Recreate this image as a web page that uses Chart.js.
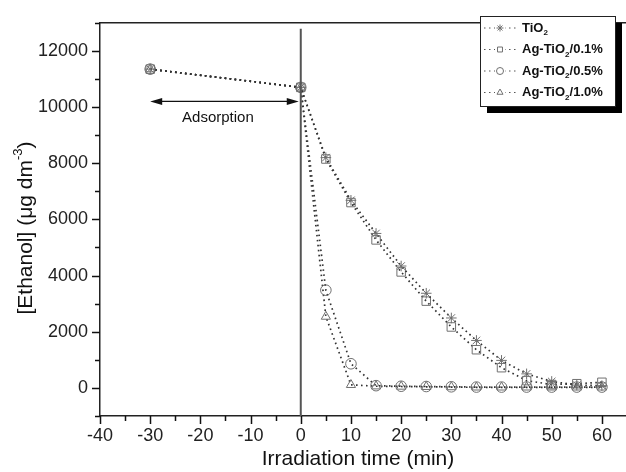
<!DOCTYPE html>
<html>
<head>
<meta charset="utf-8">
<script src="https://cdn.jsdelivr.net/npm/chart.js@4.4.0/dist/chart.umd.min.js"></script>
<style>
  html, body { margin: 0; padding: 0; background: #fff; overflow: hidden; }
  #wrap { width: 634px; height: 472px; }
</style>
</head>
<body>
<div id="wrap"><canvas id="chart" width="634" height="472"></canvas></div>
<script>
// irradiation time (min)
const times = [-30, 0, 5, 10, 15, 20, 25, 30, 35, 40, 45, 50, 55, 60];

// [Ethanol] in ug dm-3
const tio2   = [11350, 10700, 8200, 6680, 5500, 4340, 3370, 2490, 1690, 980, 500, 230, 100, 80];
const ag01   = [11350, 10700, 8150, 6600, 5270, 4130, 3090, 2170, 1360, 720, 260, 120, 150, 200];
const ag05   = [11350, 10700, 3480, 860, 80, 60, 50, 40, 30, 30, 30, 30, 30, 30];
const ag10   = [11350, 10700, 2540, 110, 60, 50, 40, 30, 20, 20, 20, 20, 20, 20];

const seriesNames = ['TiO2', 'Ag-TiO2/0.1%', 'Ag-TiO2/0.5%', 'Ag-TiO2/1.0%'];
const pointStyles = ['star', 'rect', 'circle', 'triangle'];

const xTicks = [-40, -30, -20, -10, 0, 10, 20, 30, 40, 50, 60];
const yTicks = [0, 2000, 4000, 6000, 8000, 10000, 12000];

const FONT = '"Liberation Sans", Arial, sans-serif';
const LINE = '#333';
const MARK = '#707070';

function makeSet(label, values, style) {
  return {
    label: label,
    data: times.map((t, i) => ({ x: t, y: values[i] })),
    borderColor: LINE,
    borderWidth: 1.7,
    borderDash: [1.6, 3.4],
    borderCapStyle: 'butt',
    pointStyle: style,
    pointRadius: style === 'rect' ? 6 : 5.3,
    pointBorderColor: MARK,
    pointBackgroundColor: 'transparent',
    pointBorderWidth: 1,
    fill: false,
    tension: 0
  };
}

// ticks, frame, arrow, legend and axis titles
const decor = {
  id: 'decor',
  afterDraw(c) {
    const ctx = c.ctx, a = c.chartArea;
    const xs = c.scales.x, ys = c.scales.y;
    ctx.save();
    ctx.setLineDash([]);

    // frame top + zero line
    ctx.strokeStyle = '#222';
    ctx.lineWidth = 1.5;
    ctx.beginPath();
    ctx.moveTo(a.left, a.top); ctx.lineTo(a.right, a.top);
    ctx.stroke();
    ctx.strokeStyle = '#555';
    ctx.lineWidth = 2;
    const x0 = xs.getPixelForValue(0);
    ctx.beginPath();
    ctx.moveTo(x0, a.top + 6); ctx.lineTo(x0, a.bottom);
    ctx.stroke();

    // tick marks (major + minor)
    ctx.strokeStyle = '#111';
    ctx.lineWidth = 1.5;
    ctx.beginPath();
    for (let v = -40; v <= 65; v += 5) {
      const px = Math.round(xs.getPixelForValue(v)) + 0.5;
      const len = v % 10 === 0 ? 8 : 5;
      ctx.moveTo(px, a.bottom); ctx.lineTo(px, a.bottom + len);
    }
    for (let v = -1000; v <= 13000; v += 1000) {
      const py = Math.round(ys.getPixelForValue(v)) + 0.5;
      const len = v % 2000 === 0 ? 8 : 5;
      ctx.moveTo(a.left, py); ctx.lineTo(a.left - len, py);
    }
    ctx.stroke();

    // adsorption arrow
    const ay = ys.getPixelForValue(10200);
    const ax1 = xs.getPixelForValue(-30), ax2 = xs.getPixelForValue(0) - 2;
    ctx.strokeStyle = '#111';
    ctx.fillStyle = '#111';
    ctx.lineWidth = 1.3;
    ctx.beginPath();
    ctx.moveTo(ax1 + 8, ay); ctx.lineTo(ax2 - 8, ay);
    ctx.stroke();
    ctx.beginPath();
    ctx.moveTo(ax1, ay); ctx.lineTo(ax1 + 12, ay - 3.5); ctx.lineTo(ax1 + 12, ay + 3.5); ctx.closePath();
    ctx.moveTo(ax2, ay); ctx.lineTo(ax2 - 12, ay - 3.5); ctx.lineTo(ax2 - 12, ay + 3.5); ctx.closePath();
    ctx.fill();
    ctx.font = '15px ' + FONT;
    ctx.textAlign = 'center';
    ctx.textBaseline = 'middle';
    ctx.fillText('Adsorption', xs.getPixelForValue(-16.5), ys.getPixelForValue(9630));

    // legend box with shadow
    const bx = 480, by = 16, bw = 135, bh = 90;
    ctx.fillStyle = '#000';
    ctx.fillRect(bx + 7, by + 7, bw, bh);
    ctx.fillStyle = '#fff';
    ctx.fillRect(bx, by, bw, bh);
    ctx.strokeStyle = '#222';
    ctx.lineWidth = 1;
    ctx.strokeRect(bx + 0.5, by + 0.5, bw, bh);
    c.data.datasets.forEach((ds, i) => {
      const ry = by + 12 + i * 21.5;
      ctx.strokeStyle = '#555';
      ctx.lineWidth = 1.2;
      ctx.setLineDash([1.5, 3.5]);
      ctx.beginPath();
      ctx.moveTo(bx + 4, ry); ctx.lineTo(bx + 36, ry);
      ctx.stroke();
      ctx.setLineDash([]);
      ctx.fillStyle = '#fff';
      ctx.fillRect(bx + 15, ry - 5, 10, 10);
      ctx.strokeStyle = MARK;
      ctx.lineWidth = 1;
      Chart.helpers.drawPoint(ctx, { pointStyle: ds.pointStyle, radius: 3.5, borderWidth: 1 }, bx + 20, ry);
      // text with subscript 2
      const name = seriesNames[i];
      const k = name.indexOf('2');
      let tx = bx + 42;
      ctx.fillStyle = '#111';
      ctx.textAlign = 'left';
      ctx.textBaseline = 'middle';
      ctx.font = 'bold 13px ' + FONT;
      const pre = name.slice(0, k);
      ctx.fillText(pre, tx, ry);
      tx += ctx.measureText(pre).width;
      ctx.font = 'bold 8px ' + FONT;
      ctx.fillText('2', tx, ry + 5);
      tx += ctx.measureText('2').width;
      ctx.font = 'bold 13px ' + FONT;
      ctx.fillText(name.slice(k + 1), tx, ry);
    });

    // axis titles
    ctx.fillStyle = '#111';
    ctx.font = '21px ' + FONT;
    ctx.textAlign = 'center';
    ctx.textBaseline = 'middle';
    ctx.fillText('Irradiation time (min)', 358, 459);

    ctx.translate(26, 228);
    ctx.rotate(-Math.PI / 2);
    const main = '[Ethanol] (\u03bcg dm';
    ctx.font = '21px ' + FONT;
    const w1 = ctx.measureText(main).width;
    ctx.font = '13px ' + FONT;
    const w2 = ctx.measureText('-3').width;
    ctx.font = '21px ' + FONT;
    const w3 = ctx.measureText(')').width;
    let sx = -(w1 + w2 + w3) / 2;
    ctx.textAlign = 'left';
    ctx.fillText(main, sx, 0);
    sx += w1;
    ctx.font = '13px ' + FONT;
    ctx.fillText('-3', sx, -8);
    sx += w2;
    ctx.font = '21px ' + FONT;
    ctx.fillText(')', sx, 0);

    ctx.restore();
  }
};

new Chart(document.getElementById('chart'), {
  type: 'line',
  data: {
    datasets: [
      makeSet(seriesNames[0], tio2, pointStyles[0]),
      makeSet(seriesNames[1], ag01, pointStyles[1]),
      makeSet(seriesNames[2], ag05, pointStyles[2]),
      makeSet(seriesNames[3], ag10, pointStyles[3])
    ]
  },
  options: {
    responsive: false,
    animation: false,
    layout: { padding: { top: 11, right: 5, left: 0, bottom: 0 } },
    plugins: { legend: { display: false }, tooltip: { enabled: false } },
    scales: {
      x: {
        type: 'linear',
        min: -40, max: 65,
        afterFit: s => { s.height = 56; },
        afterBuildTicks: s => { s.ticks = xTicks.map(v => ({ value: v })); },
        grid: { display: false, drawTicks: false },
        border: { display: true, color: '#222', width: 1.5 },
        ticks: { padding: 9, color: '#222', font: { family: FONT, size: 18 }, maxRotation: 0, autoSkip: false, callback: v => String(v) }
      },
      y: {
        type: 'linear',
        min: -1000, max: 13000,
        afterFit: s => { s.width = 100; },
        afterBuildTicks: s => { s.ticks = yTicks.map(v => ({ value: v })); },
        grid: { display: false, drawTicks: false },
        border: { display: true, color: '#222', width: 1.5 },
        ticks: { padding: 12, color: '#222', font: { family: FONT, size: 18 }, autoSkip: false, callback: v => String(v) }
      }
    }
  },
  plugins: [decor]
});
</script>
</body>
</html>
